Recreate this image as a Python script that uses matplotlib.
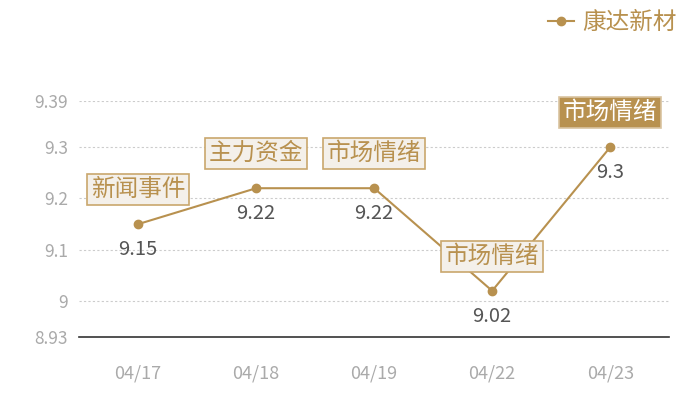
import matplotlib
matplotlib.use('Agg')
from matplotlib import pyplot as plt
from matplotlib.lines import Line2D

plt.rcParams['font.family'] = ['Noto Sans CJK SC', 'DejaVu Sans']

dates = ['04/17', '04/18', '04/19', '04/22', '04/23']
prices = [9.15, 9.22, 9.22, 9.02, 9.30]
events = ['新闻事件', '主力资金', '市场情绪', '市场情绪', '市场情绪']
yticks = [8.93, 9.0, 9.1, 9.2, 9.3, 9.39]
ytick_labels = ['8.93', '9', '9.1', '9.2', '9.3', '9.39']
series_name = '康达新材'

gold = '#b8914f'

fig = plt.figure(figsize=(7, 4), dpi=100)
ax = fig.add_axes([0.113, 0.1575, 0.843, 0.59])

x = list(range(len(dates)))
ax.plot(x, prices, color=gold, lw=1.5, marker='o', ms=6, zorder=3)

ax.set_xlim(-0.5, 4.5)
ax.set_ylim(8.93, 9.39)
ax.set_xticks(x)
ax.set_xticklabels(dates)
ax.set_yticks(yticks)
ax.set_yticklabels(ytick_labels)
ax.tick_params(axis='both', length=0, colors='#aaaaaa')
ax.tick_params(axis='x', pad=20, labelsize=13)
ax.tick_params(axis='y', pad=8, labelsize=12.5)

for v in yticks[1:]:
    ax.axhline(v, color='#cccccc', lw=0.8, ls=(0, (2, 2)), zorder=1)

for side in ['top', 'right', 'left']:
    ax.spines[side].set_visible(False)
ax.spines['bottom'].set_color('#333333')
ax.spines['bottom'].set_linewidth(1.2)

for i, (p, ev) in enumerate(zip(prices, events)):
    ax.annotate(f'{p:g}', (i, p), xytext=(0, -11), textcoords='offset points',
                ha='center', va='top', fontsize=14.5, color='#555555', zorder=4)
    last = i == len(prices) - 1
    ax.annotate(ev, (i, p), xytext=(0, 25), textcoords='offset points',
                ha='center', va='center', fontsize=17,
                color='white' if last else gold, zorder=5,
                bbox=dict(boxstyle='square,pad=0.17',
                          fc=gold if last else '#f4f0ea',
                          ec='#d9c3a0' if last else '#c9a76d', lw=1.2))

handle = Line2D([], [], color=gold, lw=1.5, marker='o', ms=6)
fig.legend([handle], [series_name], loc='upper right', bbox_to_anchor=(0.997, 1.025),
           frameon=False, fontsize=17, labelcolor=gold, handlelength=1.1,
           handletextpad=0.35)

fig.savefig('out.png', dpi=100)
